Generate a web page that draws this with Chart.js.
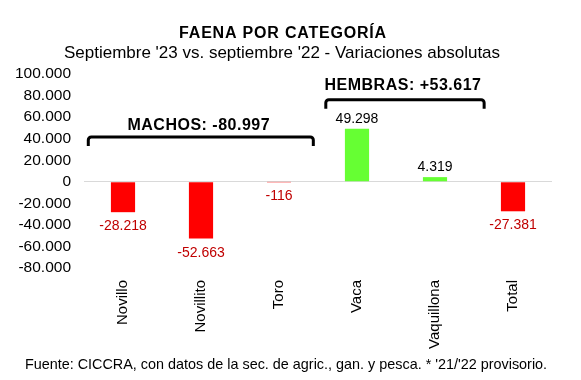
<!DOCTYPE html>
<html><head><meta charset="utf-8">
<script src="https://cdn.jsdelivr.net/npm/chart.js@4"></script>
<style>html,body{margin:0;padding:0;background:#fff}#wrap{width:581px;height:380px;position:relative}</style>
</head><body><div id="wrap"><canvas id="c"></canvas></div>
<script>
// ---- data ----
const categories = ['Novillo', 'Novillito', 'Toro', 'Vaca', 'Vaquillona', 'Total'];
const values = [-28218, -52663, -116, 49298, 4319, -27381];
const yTickValues = [100000, 80000, 60000, 40000, 20000, 0, -20000, -40000, -60000, -80000];
const groupLabels = ['MACHOS: -80.997', 'HEMBRAS: +53.617'];
const groupFirst = [0, 3];
const groupLast = [2, 4];
const titleText = 'FAENA POR CATEGORÍA';
const subtitleText = "Septiembre '23 vs. septiembre '22 - Variaciones absolutas";
const footerText = "Fuente: CICCRA, con datos de la sec. de agric., gan. y pesca. * '21/'22 provisorio.";

function fmt(v) {
  const s = Math.abs(v).toString().replace(/\B(?=(\d{3})+(?!\d))/g, '.');
  return (v < 0 ? '-' : '') + s;
}

const FONT = "'Liberation Sans', Arial, sans-serif";

const textPlugin = {
  id: 'texts',
  afterDraw(chart) {
    const ctx = chart.ctx;
    ctx.save();
    ctx.fillStyle = '#000';
    ctx.textAlign = 'center';
    ctx.textBaseline = 'alphabetic';
    ctx.font = 'bold 16px ' + FONT;
    ctx.letterSpacing = '0.8px';
    ctx.fillText(titleText, 283, 38);
    ctx.letterSpacing = '0px';
    ctx.font = '17px ' + FONT;
    ctx.fillText(subtitleText, 282, 58);
    ctx.font = '14.4px ' + FONT;
    ctx.fillText(footerText, 286, 369);
    ctx.restore();
  }
};

const valueLabelPlugin = {
  id: 'valueLabels',
  afterDatasetsDraw(chart) {
    const ctx = chart.ctx;
    const meta = chart.getDatasetMeta(0);
    ctx.save();
    ctx.font = '14px ' + FONT;
    ctx.textAlign = 'center';
    meta.data.forEach((bar, i) => {
      const v = values[i];
      if (v < 0) {
        ctx.fillStyle = '#C00000';
        ctx.textBaseline = 'alphabetic';
        ctx.fillText(fmt(v), bar.x, bar.y + 18);
      } else {
        ctx.fillStyle = '#000';
        ctx.textBaseline = 'alphabetic';
        ctx.fillText(fmt(v), bar.x, bar.y - 6);
      }
    });
    ctx.restore();
  }
};

const bracketPlugin = {
  id: 'brackets',
  afterDatasetsDraw(chart, args, opts) {
    const ctx = chart.ctx;
    const xs = chart.scales.x, ys = chart.scales.y;
    ctx.save();
    groupLabels.forEach((label, g) => {
      const left = xs.getPixelForValue(groupFirst[g] + opts.startOffset[g]);
      const right = xs.getPixelForValue(groupLast[g] + opts.endOffset[g]);
      const y = ys.getPixelForValue(opts.level[g]);
      const drop = 9;
      ctx.strokeStyle = '#000';
      ctx.lineWidth = 3;
      ctx.lineJoin = 'round';
      ctx.beginPath();
      ctx.moveTo(left, y + drop);
      ctx.arcTo(left, y, left + 4, y, 3);
      ctx.lineTo(right - 4, y);
      ctx.arcTo(right, y, right, y + 4, 3);
      ctx.lineTo(right, y + drop);
      ctx.stroke();
      ctx.fillStyle = '#000';
      ctx.font = 'bold 16px ' + FONT;
      ctx.letterSpacing = '0.5px';
      ctx.textAlign = 'center';
      ctx.textBaseline = 'alphabetic';
      ctx.fillText(label, (left + right) / 2 - 2, y - opts.gap[g]);
    });
    ctx.restore();
  }
};

new Chart(document.getElementById('c'), {
  type: 'bar',
  data: {
    labels: categories,
    datasets: [{
      data: values,
      backgroundColor: values.map(v => v < 0 ? '#FF0000' : '#66FF33'),
      borderWidth: 0,
      barPercentage: 0.31,
      categoryPercentage: 1.0
    }]
  },
  options: {
    responsive: true,
    maintainAspectRatio: false,
    animation: false,
    layout: { padding: { top: 74, left: 0, right: 29, bottom: 0 } },
    plugins: {
      legend: { display: false },
      tooltip: { enabled: false },
      brackets: {
        startOffset: [-0.445, -0.4],
        endOffset: [0.44, 0.63],
        level: [41500, 76100],
        gap: [7, 10]
      }
    },
    scales: {
      x: {
        grid: { display: false },
        border: { display: false },
        ticks: {
          autoSkip: false,
          minRotation: 90,
          maxRotation: 90,
          padding: 4,
          color: '#000',
          font: { family: FONT, size: 15 }
        },
        afterFit(scale) { scale.height = 112; }
      },
      y: {
        min: -80000,
        max: 100000,
        afterBuildTicks(scale) { scale.ticks = yTickValues.map(v => ({ value: v })); },
        grid: {
          drawTicks: false,
          color: ctx => (ctx.tick && ctx.tick.value === 0) ? '#D9D9D9' : 'rgba(0,0,0,0)',
          lineWidth: 1
        },
        border: { display: false },
        ticks: {
          autoSkip: false,
          padding: 13,
          color: '#000',
          font: { family: FONT, size: 15.5 },
          callback: v => fmt(v)
        },
        afterFit(scale) { scale.width = 84; }
      }
    }
  },
  plugins: [textPlugin, valueLabelPlugin, bracketPlugin]
});
</script>
</body></html>
